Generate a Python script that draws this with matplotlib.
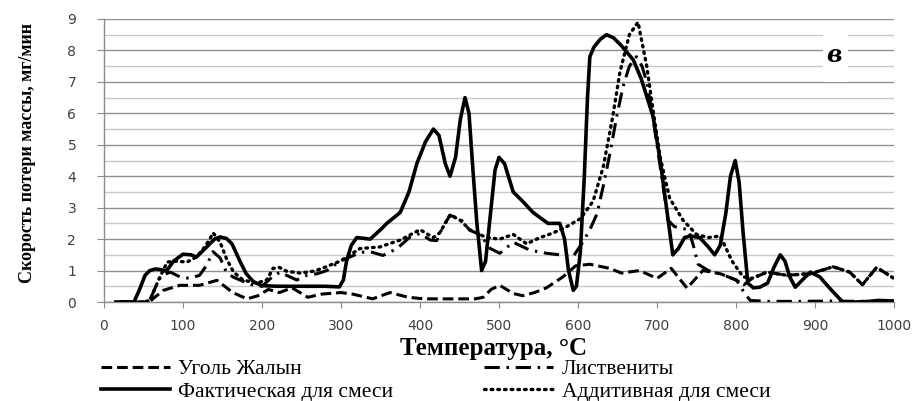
import numpy as np
import matplotlib
matplotlib.use("Agg")
import matplotlib.pyplot as plt
from matplotlib.patches import Rectangle

# ---------------- data ----------------
T_coal = [20, 50, 58, 75, 96, 121, 143, 163, 181, 195, 208, 222, 238, 258, 275, 300, 315, 340,
          362, 385, 405, 440, 470, 480, 490, 501, 518, 530, 545, 560, 581, 597, 615, 640, 655,
          678, 700, 718, 738, 758, 780, 800, 810, 820, 839, 864, 894, 923, 944, 960, 978, 1000]
coal = [0, 0, 0.02, 0.37, 0.53, 0.53, 0.69, 0.3, 0.1, 0.2, 0.4, 0.3, 0.45, 0.15, 0.25, 0.3, 0.25, 0.1,
        0.3, 0.15, 0.1, 0.1, 0.1, 0.15, 0.4, 0.53, 0.27, 0.2, 0.3, 0.45, 0.8, 1.15, 1.2, 1.07, 0.92,
        1.0, 0.75, 1.07, 0.44, 1.0, 0.9, 0.7, 0.55, 0.74, 0.95, 0.85, 0.9, 1.12, 0.95, 0.55, 1.1, 0.75]

T_ll = [20, 50, 58, 67, 73, 84, 96, 109, 121, 130, 138, 147, 155, 163, 172, 189, 200, 214, 223, 231,
        244, 257, 270, 282, 299, 316, 324, 337, 353, 371, 387, 400, 413, 421, 429, 438, 451, 463, 476,
        489, 501, 518, 539, 560, 577, 594, 606, 615, 624, 633, 641, 649, 657, 665, 674, 681, 687, 694,
        700, 707, 714, 722, 730, 740, 746, 752, 765, 785, 800, 805, 810, 818, 840, 880, 920, 960, 1000]
ll = [0, 0, 0.05, 0.58, 0.85, 0.95, 0.8, 0.75, 0.85, 1.17, 1.6, 1.4, 0.95, 0.8, 0.7, 0.53, 0.5, 0.82,
      0.95, 0.85, 0.7, 0.85, 0.9, 1.0, 1.3, 1.48, 1.58, 1.6, 1.48, 1.7, 2.06, 2.18, 1.97, 1.95, 2.4, 2.75,
      2.65, 2.28, 2.15, 1.7, 1.55, 1.9, 1.65, 1.55, 1.5, 1.45, 1.9, 2.3, 2.8, 3.8, 4.8, 5.9, 6.85, 7.5,
      7.8, 7.5, 7.0, 6.0, 5.0, 3.8, 2.6, 2.4, 2.35, 2.3, 1.8, 1.2, 1.0, 0.85, 0.7, 0.55, 0.3, 0.05,
      0.02, 0.02, 0.03, 0.02, 0.04]

T_fact = [15, 38, 45, 52, 58, 65, 72, 79, 88, 100, 110, 117, 130, 140, 147, 155, 162, 172, 180, 189,
          200, 220, 250, 280, 298, 303, 307, 313, 320, 337, 350, 358, 375, 386, 396, 407, 417, 424,
          432, 438, 445, 451, 457, 462, 467, 472, 478, 483, 490, 495, 500, 507, 518, 530, 543, 562,
          570, 577, 583, 588, 594, 598, 603, 608, 612, 615, 620, 628, 636, 645, 655, 670, 680, 695,
          704, 712, 720, 727, 735, 742, 754, 765, 773, 780, 787, 793, 799, 804, 809, 815, 822, 830,
          840, 848, 856, 862, 868, 875, 884, 894, 906, 920, 935, 950, 970, 980, 1000]
fact = [0, 0, 0.4, 0.85, 1.0, 1.05, 1.03, 0.98, 1.3, 1.52, 1.5, 1.43, 1.75, 2.0, 2.07, 2.02, 1.85, 1.3,
        0.9, 0.65, 0.52, 0.5, 0.5, 0.5, 0.48, 0.7, 1.3, 1.8, 2.05, 2.0, 2.3, 2.5, 2.85, 3.5, 4.4, 5.1,
        5.5, 5.3, 4.4, 4.0, 4.6, 5.8, 6.5, 6.0, 4.2, 2.5, 1.0, 1.3, 3.0, 4.2, 4.6, 4.4, 3.5, 3.2, 2.85,
        2.5, 2.5, 2.5, 2.0, 1.0, 0.37, 0.5, 1.6, 4.0, 6.5, 7.8, 8.1, 8.35, 8.5, 8.4, 8.15, 7.7, 7.1, 5.9,
        4.5, 3.0, 1.5, 1.7, 2.05, 2.1, 2.05, 1.75, 1.5, 1.8, 2.8, 4.0, 4.5, 3.8, 2.2, 0.6, 0.45, 0.47,
        0.6, 1.1, 1.5, 1.3, 0.8, 0.47, 0.7, 0.95, 0.8, 0.4, 0.0, 0.0, 0.02, 0.05, 0.03]

T_add = [20, 50, 58, 69, 80, 92, 105, 117, 126, 134, 138, 147, 155, 164, 176, 193, 206, 214, 222, 231,
         248, 265, 274, 299, 324, 349, 375, 400, 417, 425, 438, 451, 463, 484, 501, 518, 535, 552, 569,
         586, 603, 619, 632, 644, 653, 665, 676, 687, 695, 704, 716, 733, 750, 765, 780, 795, 809, 820,
         839, 864, 894, 923, 944, 960, 978, 1000]
add = [0, 0, 0.05, 0.7, 1.27, 1.3, 1.27, 1.43, 1.7, 2.0, 2.2, 1.9, 1.38, 0.95, 0.7, 0.6, 0.7, 1.07, 1.1,
       0.98, 0.92, 0.98, 1.05, 1.3, 1.7, 1.75, 1.97, 2.3, 2.05, 2.2, 2.77, 2.6, 2.3, 2.05, 2.0, 2.15,
       1.85, 2.05, 2.2, 2.4, 2.65, 3.2, 4.3, 5.9, 7.3, 8.5, 8.9, 7.5, 6.1, 4.6, 3.3, 2.6, 2.15, 2.05,
       2.1, 1.3, 0.8, 0.75, 0.95, 0.85, 0.9, 1.12, 0.95, 0.55, 1.1, 0.75]

labels = ['Уголь Жалын', 'Листвениты', 'Фактическая для смеси', 'Аддитивная для смеси']
x_ticks = list(range(0, 1001, 100))
y_ticks = list(range(0, 10))

# ---------------- figure ----------------
W, H = 916, 401
fig = plt.figure(figsize=(W / 100, H / 100), dpi=100)
ax = fig.add_axes([104 / W, 1 - 302 / H, 790 / W, 283 / H])

ax.set_xlim(0, 1000)
ax.set_ylim(0, 9)
ax.set_xticks(x_ticks)
ax.set_yticks(y_ticks)
ax.set_yticks(np.arange(0.5, 9, 1), minor=True)
ax.grid(which='major', axis='y', color='#8f8f8f', lw=1.0, zorder=0)
ax.grid(which='minor', axis='y', color='#c9c9c9', lw=1.0, zorder=0)
ax.set_axisbelow(True)
for s in ('top', 'right'):
    ax.spines[s].set_visible(False)
for s in ('left', 'bottom'):
    ax.spines[s].set_color('#8c8c8c')
    ax.spines[s].set_linewidth(1.0)
ax.tick_params(axis='y', which='minor', length=0)
ax.tick_params(axis='y', which='major', length=5, color='#8c8c8c', pad=15,
               labelsize=10, labelcolor='#404040')
ax.tick_params(axis='x', length=4, color='#8c8c8c', pad=8, labelsize=10, labelcolor='#404040')

# white box behind the panel letter
ax.add_patch(Rectangle((910, 7.0), 32, 1.57, facecolor='white', edgecolor='none', zorder=1))
ax.text(924, 7.85, 'в', fontsize=17, family='DejaVu Serif', style='italic', weight='bold',
        ha='center', va='center', zorder=2)

l1, = ax.plot(T_coal, coal, color='black', lw=2.2, dashes=(3.5, 1.6), zorder=3)
l2, = ax.plot(T_ll, ll, color='black', lw=2.2, dashes=(5, 2.2, 0.8, 2.2), zorder=3)
l3, = ax.plot(T_fact, fact, color='black', lw=2.6, solid_joinstyle='round', zorder=4)
l4, = ax.plot(T_add, add, color='black', lw=2.4, dashes=(0.5, 1.5), dash_capstyle='round', zorder=5)

fig.text(28 / W, 1 - 153 / H, 'Скорость потери массы, мг/мин', rotation=90, ha='center', va='center',
         family='Liberation Serif', weight='bold', fontsize=13)
fig.text(494 / W, 1 - 349 / H, 'Температура, °С', ha='center', va='center',
         family='Liberation Serif', weight='bold', fontsize=18)

fig.legend([l1, l3, l2, l4], [labels[0], labels[2], labels[1], labels[3]],
           loc='upper left', bbox_to_anchor=(101 / W, 1 - 359 / H), ncol=2, frameon=False,
           prop={'family': 'Liberation Serif', 'size': 15.5}, handlelength=3.2, handletextpad=0.4,
           columnspacing=4.2, labelspacing=0.12, borderpad=0, borderaxespad=0)

fig.savefig('out.png', dpi=100)
